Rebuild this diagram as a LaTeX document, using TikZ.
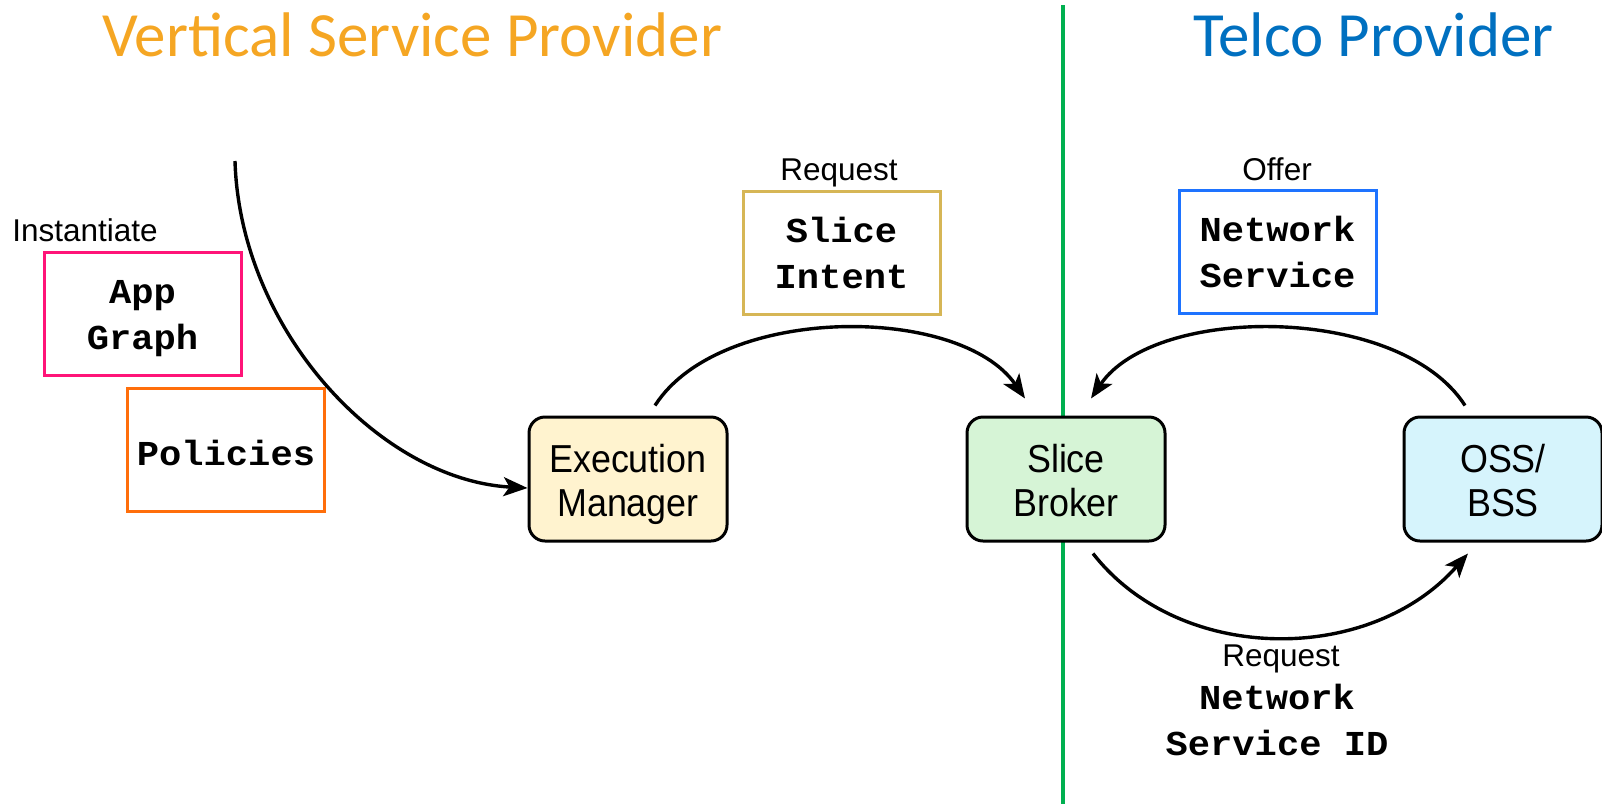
\documentclass[tikz,border=0pt]{standalone}
\usepackage{fontspec}
\setmainfont{Liberation Sans}
\newfontfamily\nodefont{Liberation Sans}[FakeStretch=0.92]
\newfontfamily\codefont{Liberation Mono}[FakeStretch=1.06]
\newfontfamily\titlefont{Carlito}
\usetikzlibrary{arrows.meta,calc}

\definecolor{vspOrange}{RGB}{245,166,35}
\definecolor{telcoBlue}{RGB}{0,112,192}
\definecolor{divGreen}{RGB}{0,176,80}
\definecolor{appPink}{RGB}{255,20,120}
\definecolor{polOrange}{RGB}{255,110,10}
\definecolor{intentGold}{RGB}{214,182,86}
\definecolor{nsBlue}{RGB}{30,115,255}
\definecolor{emFill}{RGB}{255,243,207}
\definecolor{sbFill}{RGB}{214,244,214}
\definecolor{ossFill}{RGB}{214,244,252}

% box of fixed size whose first baseline sits #3 below its top
\newcommand{\boxlines}[4]{\parbox[c][#1][t]{#2}{\centering\rule{0pt}{#3}#4}}
\newcommand{\blocktext}[1]{\boxlines{124pt}{198pt}{55pt}{#1}}
\newcommand{\datatext}[2][51.5pt]{\boxlines{123pt}{197pt}{#1}{#2}}

\begin{document}
\begin{tikzpicture}[x=1pt,y=-1pt,
  block/.style={draw=black, line width=3pt, rounded corners=16pt,
    minimum width=198pt, minimum height=124pt, inner sep=0pt,
    font=\fontsize{39}{44.5}\selectfont\nodefont},
  databox/.style={draw, line width=3pt, fill=white,
    minimum width=197pt, minimum height=123pt, inner sep=0pt,
    font=\fontsize{35}{46}\selectfont\codefont\bfseries},
  tag/.style={font=\fontsize{31.5}{36}\selectfont, inner sep=0pt, anchor=base},
  codetag/.style={font=\fontsize{35}{46}\selectfont\codefont\bfseries, inner sep=0pt, anchor=base},
  heading/.style={font=\fontsize{63}{70}\selectfont\titlefont, inner sep=0pt, anchor=base west},
  flow/.style={line width=3.4pt, -{Stealth[length=24pt,width=19pt,inset=6pt]}}
]
\useasboundingbox (0,0) rectangle (1602,804);

% divider between the two domains
\coordinate (divtop) at (1063,5);
\coordinate (divbot) at (1063,804);
\draw[divGreen, line width=4pt] (divtop) -- (divbot);

% headings
\node[heading, text=vspOrange] (vsp) at (102,56) {Vertical Service Provider};
\node[heading, text=telcoBlue] (telco) at (1193,56) {Telco Provider};

% main components
\node[block, fill=emFill] (em) at (628,479) {\blocktext{Execution\\Manager}};
\node[block, fill=sbFill] (sb) at (1066,479) {\blocktext{Slice\\Broker}};
\node[block, fill=ossFill] (oss) at (1503,479) {\blocktext{OSS/\\BSS}};

% exchanged artefacts
\node[tag] (inst) at (85,241) {Instantiate};
\node[databox, draw=appPink] (app) at (142.5,313.5) {\datatext[51pt]{App\\Graph}};
\node[databox, draw=polOrange] (pol) at (226,449.5) {\datatext[77.5pt]{Policies}};

\node[tag] (req1) at (839,180) {Request};
\node[databox, draw=intentGold] (intent) at (841.5,252.5) {\datatext{Slice\\Intent}};

\node[tag] (offer) at (1277,180) {Offer};
\node[databox, draw=nsBlue] (ns) at (1277.5,251.5) {\datatext{Network\\Service}};

\node[tag] (req2) at (1281,666) {Request};
\node[codetag] (nsid1) at (1277,709) {Network};
\node[codetag] (nsid2) at (1277,755) {Service ID};

% interactions
\coordinate (start) at (235,161);
\draw[flow] (start) .. controls (240,330) and (380,480) .. ($(em.west)+(0,9)$);
\draw[flow] ($(em.north)+(27,-10)$) .. controls (720,304) and (960,304) .. ($(sb.north)+(-41,-17)$);
\draw[flow] ($(oss.north)+(-38,-10)$) .. controls (1400,304) and (1155,304) .. ($(sb.north)+(25,-17)$);
\draw[flow] ($(sb.south)+(27,11)$) .. controls (1180,665) and (1370,665) .. ($(oss.south)+(-35,11)$);
\end{tikzpicture}
\end{document}
